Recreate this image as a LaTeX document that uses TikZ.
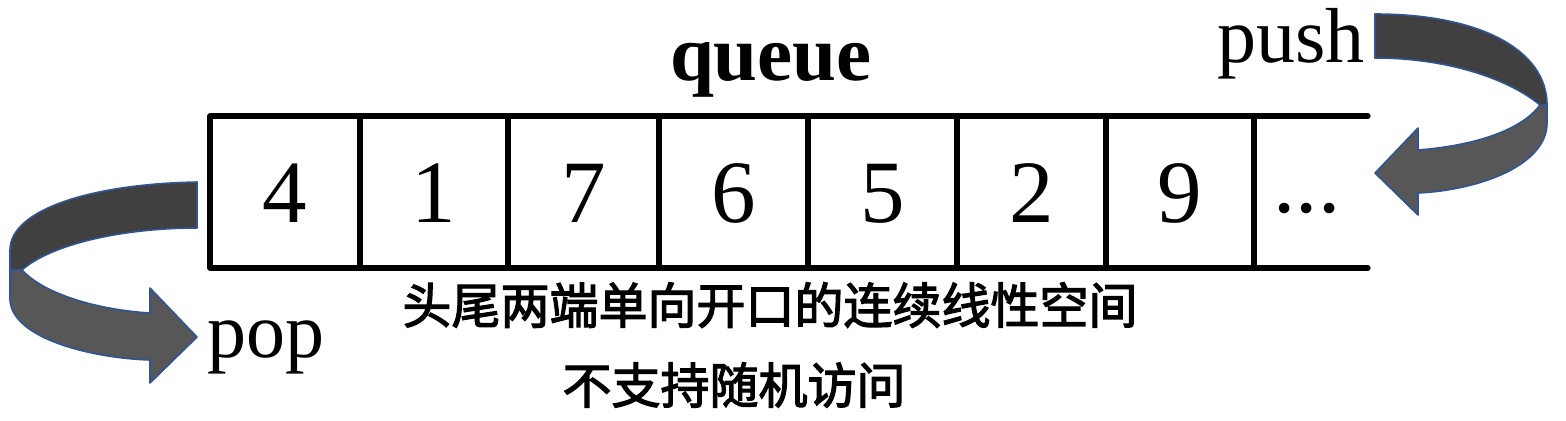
\documentclass[tikz,border=0pt]{standalone}
\usepackage{fontspec}
\setmainfont{Liberation Serif}
\newfontfamily\cjk[BoldFont={Noto Sans CJK SC}, BoldFeatures={FakeBold=2.5}]{Noto Sans CJK SC}
\definecolor{banddark}{HTML}{404040}
\definecolor{bandlight}{HTML}{575757}
\definecolor{bandedge}{HTML}{2F5597}
\begin{document}
\begin{tikzpicture}[x=0.5pt,y=-0.5pt,
  qline/.style={line width=2.6pt, line cap=round},
  digit/.style={font=\fontsize{44.5}{50}\selectfont, anchor=base, inner sep=0pt},
  lbl/.style={font=\fontsize{39}{44}\selectfont, anchor=base, inner sep=0pt},
  ttl/.style={font=\fontsize{39.5}{44}\selectfont\bfseries, anchor=base, inner sep=0pt},
  zh/.style={font=\fontsize{24.5}{28}\cjk\bfseries, inner sep=0pt},
  dark/.style={fill=banddark, draw=bandedge, line width=0.8pt, line join=round},
  light/.style={fill=bandlight, draw=bandedge, line width=0.8pt, line join=round}]
\useasboundingbox (0,0) rectangle (1566,420);

% queue cells
\draw[qline] (210,116) -- (1368,116);
\draw[qline] (210,268) -- (1368,268);
\foreach \x in {210,360,508,659,808,957,1106,1254}
  \draw[qline] (\x,116) -- (\x,268);

\node[digit] (c1) at (285,222) {4};
\node[digit] (c2) at (434,222) {1};
\node[digit] (c3) at (583.5,222) {7};
\node[digit] (c4) at (733.5,222) {6};
\node[digit] (c5) at (882.5,222) {5};
\node[digit] (c6) at (1031.5,222) {2};
\node[digit] (c7) at (1180,222) {9};
\node[digit] (c8) at (1307,212) {...};

% labels
\node[ttl] (title) at (771,80) {queue};
\node[lbl] (push) at (1291,62) {push};
\node[lbl] (pop) at (266,357) {pop};
\node[zh] (desc1) at (770,305) {头尾两端单向开口的连续线性空间};
\node[zh] (desc2) at (734,385) {不支持随机访问};

% push arrow (right)
\path[light] (1540,105) -- (1547,105) -- (1547,123)
  .. controls (1547,165) and (1480,190) .. (1418,193)
  -- (1418,215) -- (1375,173) -- (1418,128) -- (1418,150)
  .. controls (1470,146) and (1520,132) .. (1540,105) -- cycle;
\path[dark] (1375,14) .. controls (1480,14) and (1547,50) .. (1547,105)
  -- (1540,105) .. controls (1510,80) and (1450,58) .. (1375,58) -- cycle;

% pop arrow (left)
\path[light] (22,270) -- (10,270) -- (10,300)
  .. controls (12,338) and (90,358) .. (150,360)
  -- (150,383) -- (197,337) -- (150,288) -- (150,313)
  .. controls (100,310) and (45,295) .. (22,270) -- cycle;
\path[dark] (197,182) .. controls (90,184) and (10,210) .. (10,250)
  -- (10,270) -- (22,270) .. controls (50,245) and (120,228) .. (197,228) -- cycle;
\end{tikzpicture}
\end{document}
